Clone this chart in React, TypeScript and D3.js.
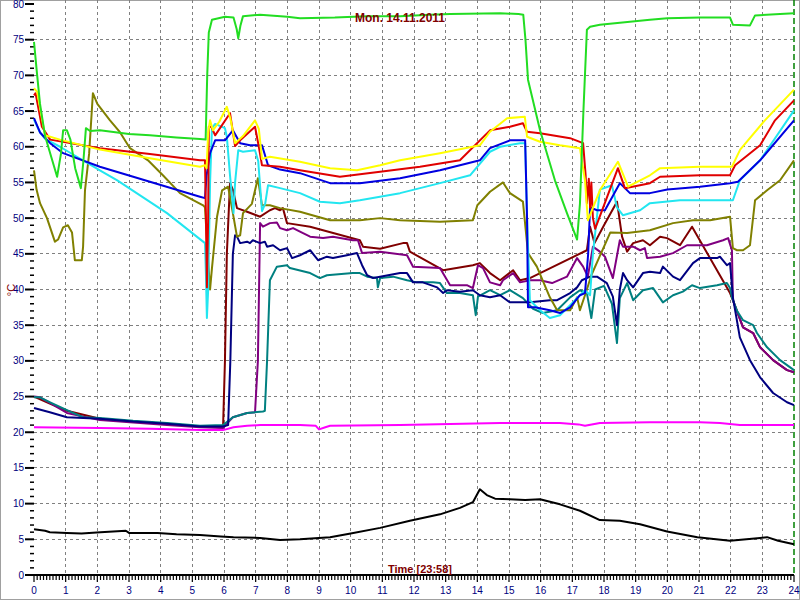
import React from 'react';
import * as d3 from 'd3';

type Pt = [number, number];

// hour of day, °C
const green: Pt[] = [[0,74.7],[0.1,70],[0.19,66],[0.35,61.5],[0.55,58.5],[0.73,55.8],[0.85,59],[0.92,62.3],[1.04,62.3],[1.15,61],[1.3,57],[1.48,54.2],[1.56,58],[1.64,62.6],[1.77,62.2],[2.08,62.3],[3,61.8],[3.66,61.6],[4.5,61.3],[5.24,61.1],[5.42,61],[5.47,70],[5.52,76],[5.62,77.8],[6.03,78.2],[6.3,78.1],[6.4,76.5],[6.45,75.2],[6.52,77],[6.6,78.3],[7.14,78.5],[8,78.2],[8.4,78.0],[9.5,78.1],[10.5,78.3],[11.56,78.3],[12.5,78.5],[13.14,78.6],[14.72,78.7],[15.3,78.6],[15.45,78.5],[15.52,75],[15.6,69.4],[15.98,62.3],[16.45,55.3],[16.83,50.7],[17.15,47],[17.24,52],[17.35,65],[17.46,76.4],[17.56,76.8],[17.87,77.1],[19.45,77.8],[20,78],[21.03,78.1],[21.98,78.1],[22.07,77.1],[22.61,77],[22.77,78.4],[23.56,78.6],[24,78.7]];
const yellow: Pt[] = [[0,68.2],[0.1,67.7],[0.25,64],[0.35,61.6],[0.82,61],[2.08,59.6],[3.66,58.4],[5.24,57.2],[5.4,57.4],[5.45,57],[5.5,62],[5.56,63.7],[5.65,62.3],[5.85,63.5],[6.09,65.6],[6.2,64],[6.35,60.5],[6.6,61.5],[6.98,63.7],[7.1,62.5],[7.2,58.3],[7.45,58.6],[8.4,57.9],[9.35,57.0],[10.2,56.7],[10.93,57.4],[11.56,58.1],[12.82,59.1],[14.08,60.2],[14.4,62.1],[14.94,64.0],[15.5,64.2],[15.57,61.4],[15.98,60.7],[16.61,60.2],[17.24,59.8],[17.4,55.3],[17.49,49.7],[17.87,53.9],[18.44,57.9],[18.76,54.4],[19.45,56],[19.77,57],[21.03,57.2],[22.04,57.2],[22.3,59.6],[23.08,63.7],[24,68]];
const red: Pt[] = [[0,67.2],[0.05,67.5],[0.25,62.8],[0.51,61],[2.08,59.8],[3.66,59.0],[5.24,58.1],[5.4,58.1],[5.43,50],[5.46,40.3],[5.5,50],[5.52,62.8],[5.6,62.8],[5.72,61.6],[6.19,64.7],[6.35,60.1],[6.51,60.9],[6.98,62.8],[7.1,60],[7.2,57.4],[7.77,57.2],[8.4,56.7],[9.66,55.8],[10.93,56.5],[12.19,57.2],[13.45,58.1],[14.4,62.3],[15.03,62.8],[15.44,63.3],[15.57,62.1],[15.98,61.9],[16.93,61.2],[17.34,60.5],[17.42,56],[17.46,52.1],[17.52,55.5],[17.56,51.5],[17.6,55],[17.65,50],[17.72,48.5],[18.44,57],[18.66,54.2],[19.45,54.9],[19.77,55.8],[21.03,56.0],[21.98,56.0],[22.14,57.4],[22.93,60.2],[23.4,63.7],[24,66.5]];
const blue: Pt[] = [[0,64],[0.19,62],[0.51,60.5],[0.92,59.1],[2.08,57.2],[3.66,55.1],[5.24,53.0],[5.4,52.8],[5.45,56],[5.56,59.1],[5.72,60.9],[6.03,60.9],[6.28,62.3],[6.51,60.5],[6.82,60.2],[7.2,60.2],[7.39,57.4],[7.77,56.8],[8.4,56.3],[9.35,54.9],[10.29,54.9],[11.56,55.6],[12.82,56.7],[14.08,58.1],[14.4,59.8],[15.03,60.9],[15.51,60.9],[15.57,50],[15.6,37.5],[15.82,37.5],[16.29,37.1],[16.61,36.7],[16.93,37.5],[17.24,39.2],[17.4,39.5],[17.5,45],[17.56,51.5],[17.78,51.1],[18.03,51.1],[18.5,54.9],[18.82,53.5],[19.45,53.5],[20.0,54],[21.03,54.4],[21.98,54.9],[22.23,55.1],[22.93,58.1],[24,63.7]];
const cyan: Pt[] = [[0,63.8],[0.19,62],[0.35,61.1],[0.82,60],[2.08,56.7],[2.63,55.3],[4.2,50.7],[5.4,46.5],[5.43,42],[5.46,36],[5.5,40],[5.56,55],[5.62,62.6],[5.72,63.2],[6.03,62.6],[6.09,61.4],[6.19,56],[6.3,50.7],[6.35,55],[6.45,59.5],[6.6,59.3],[6.98,59.5],[7.08,58],[7.2,51],[7.3,52],[7.39,54.6],[7.77,54.2],[8.4,53.5],[9.03,52.3],[9.66,52.1],[10.29,52.5],[11.56,53.5],[12.82,54.9],[13.77,56],[14.4,59.3],[14.72,60],[15.35,60.5],[15.51,60.5],[15.57,50],[15.66,38.5],[15.98,37.1],[16.29,36.0],[16.61,36.4],[16.93,37.8],[17.24,39.2],[17.4,39.9],[17.56,39.2],[17.65,45],[17.87,54],[18.25,54.6],[18.41,51.5],[18.6,50.4],[19.14,51.1],[19.45,52.1],[20.4,52.5],[22.07,52.5],[22.29,55.3],[22.93,58.1],[24,65.1]];
const olive: Pt[] = [[0,56.7],[0.08,54],[0.19,52.1],[0.41,50],[0.66,46.7],[0.76,47],[0.92,48.7],[1.07,49],[1.2,48],[1.29,44.1],[1.51,44.1],[1.55,46],[1.61,53.9],[1.74,59],[1.86,67.5],[2.0,66],[2.4,63.7],[2.72,62],[3.03,59.8],[3.6,58.1],[4.07,56],[4.61,53.5],[5.34,51.8],[5.4,51.5],[5.5,44],[5.56,40],[5.62,43],[5.78,50.2],[5.94,53.9],[6.13,54.4],[6.28,50.7],[6.41,47.4],[6.51,47.6],[6.6,50.7],[6.88,52],[7.07,55.6],[7.2,51.8],[7.45,51.8],[7.77,51.4],[8.4,50.9],[9.35,49.7],[10.29,49.7],[10.93,50.0],[11.56,49.7],[12.82,49.5],[13.86,49.7],[14.0,51.8],[14.4,53.7],[14.81,55],[15.03,53.5],[15.44,52.3],[15.6,45.1],[15.88,43.2],[16.29,38.9],[16.52,37.1],[16.93,37.1],[17.15,38.9],[17.24,37.1],[17.46,40],[17.6,42],[17.87,44.7],[18.2,48],[18.73,47.9],[19.45,48.3],[20.18,49.3],[20.81,49.7],[21.35,49.7],[21.98,50.2],[22.07,45.8],[22.2,45.5],[22.39,45.5],[22.61,46.2],[22.77,52.5],[23.15,53.9],[23.56,55.3],[24,58.1]];
const maroon: Pt[] = [[0,25],[0.5,24],[1.04,23],[2.08,21.9],[3.03,21.5],[4.2,21.2],[5.24,20.8],[5.97,20.7],[6.03,30],[6.09,45],[6.19,54.9],[6.28,54],[6.41,51.4],[6.73,50.9],[7.14,50.2],[7.45,51.1],[7.61,51.4],[7.77,51.1],[7.86,51.4],[7.99,49.3],[8.72,48.8],[10.29,46.9],[10.39,46],[10.93,45.7],[11.65,46.5],[11.78,46.5],[11.87,45.3],[12.92,42.7],[13.86,43.4],[14.08,43.7],[14.4,42.3],[14.72,41.3],[15.13,42.7],[15.35,41.3],[15.66,41.6],[17.46,45.5],[17.56,48.8],[17.7,46.5],[18.0,49],[18.41,52.3],[18.57,47.4],[18.73,45.3],[18.92,46.5],[19.23,46.9],[19.45,46.2],[19.77,47.4],[19.99,47.2],[20.4,46.2],[20.78,48.8],[21.98,39.5],[22.07,38.5],[22.39,34.7],[22.71,33.9],[22.93,31.9],[23.34,30.1],[23.78,28.7],[24,28.4]];
const purple: Pt[] = [[0,25],[0.19,24.9],[0.5,24.1],[1.04,22.7],[2.08,21.7],[3.03,21.4],[4.2,21.0],[5.24,20.7],[5.97,20.6],[6.13,21.4],[6.28,22.1],[6.73,22.7],[6.98,22.8],[7.07,30],[7.14,49.3],[7.23,48.8],[7.45,49.3],[7.67,49.4],[7.77,48.6],[7.99,48.3],[8.18,48.6],[8.4,48.1],[8.72,47.4],[9.13,47.2],[9.44,47.4],[10.07,46.9],[10.23,46.9],[10.36,45.1],[10.93,45.3],[11.78,44.8],[11.97,43.2],[12.82,43.0],[13.14,40.6],[13.67,40.6],[13.86,40.2],[14.02,43.4],[14.18,43.0],[14.4,41],[14.72,40.6],[14.81,41.3],[15.13,42.3],[15.35,41],[15.66,41.3],[15.98,41.3],[16.36,40.9],[16.83,41.8],[17.15,44.4],[17.34,43.2],[17.49,41.8],[17.65,46],[17.87,45.3],[18.03,44.6],[18.28,41.6],[18.5,46.9],[18.6,46],[18.92,46],[19.14,45.5],[19.29,45.8],[19.36,44.4],[19.77,44.6],[20.18,45.1],[20.62,46.2],[21.25,46.2],[21.76,46.9],[21.92,47.2],[22.04,45.5],[22.07,38.5],[22.39,34.7],[22.71,33.9],[22.93,31.9],[23.34,30.1],[23.78,28.7],[24,28.4]];
const teal: Pt[] = [[0,24.9],[0.19,24.9],[0.51,24.2],[1.04,23.1],[1.55,22.1],[2.08,22.0],[3.13,21.6],[4.2,21.3],[5.24,20.9],[5.97,21.0],[6.28,22.1],[6.73,22.7],[7.23,22.9],[7.29,23],[7.36,30],[7.45,41.3],[7.67,43.2],[7.99,43.4],[8.08,43.0],[8.72,42.3],[9.03,41.6],[9.25,42],[10.07,42.3],[10.29,42.3],[10.52,41.8],[10.83,41.6],[10.86,40.3],[10.93,41.6],[11.34,41.8],[11.78,41.3],[12.09,41],[12.6,41],[12.82,40.9],[13.04,39.5],[13.45,39.5],[13.86,39.2],[13.95,36.4],[14.02,39],[14.4,39.9],[14.72,39.2],[15.03,39.9],[15.44,38.8],[15.76,37.3],[16.07,36.7],[16.52,37.1],[16.93,38.9],[17.24,39.9],[17.46,39.5],[17.6,36],[17.72,40],[18.0,40.5],[18.25,38],[18.41,32.5],[18.5,38.8],[18.73,40.9],[18.92,38.5],[19.23,39.9],[19.55,40.2],[19.86,38.2],[20.18,39.2],[20.49,39.7],[20.78,40.6],[21.03,40.2],[21.57,40.6],[21.88,40.9],[21.98,40.2],[22.04,38.9],[22.2,37],[22.39,35.7],[22.71,35.0],[22.83,33.9],[23.15,31.9],[23.56,30.1],[24,28.7]];
const navy: Pt[] = [[0,23.4],[0.5,22.8],[1.04,22.1],[2.08,21.9],[3.13,21.5],[4.2,21.2],[5.24,20.8],[5.97,20.8],[6.13,21],[6.2,30],[6.28,45],[6.35,47.6],[6.41,47.4],[6.51,46.5],[6.73,46.7],[6.82,46.5],[6.91,46.9],[7.14,46.5],[7.29,46.7],[7.36,46],[7.55,46.2],[7.77,45.5],[7.99,45.8],[8.15,44.4],[8.4,44.8],[8.72,45.5],[8.97,44.1],[9.25,44.6],[9.44,44.4],[9.88,44.8],[10.2,45.1],[10.36,43.4],[10.52,42.0],[10.71,41.6],[10.93,41.8],[11.56,42.3],[11.78,42.3],[11.97,41],[12.28,41],[12.73,40.3],[12.92,39.5],[13.04,39.9],[13.45,39.7],[13.86,39.9],[14.08,39.2],[14.4,38.9],[14.72,39.2],[15.03,38.2],[15.66,38.2],[16.29,38.5],[16.52,38.5],[16.93,39.5],[17.15,40.3],[17.3,41.3],[17.56,41.8],[17.78,41.8],[18.09,40.9],[18.28,39],[18.41,35],[18.5,40],[18.6,42.3],[18.73,41.3],[18.92,40.3],[19.23,42.3],[19.45,42.5],[19.77,42.3],[19.86,43.2],[20.18,41.8],[20.4,41.3],[20.81,43.7],[21.03,44.4],[21.57,44.4],[21.66,44.6],[21.88,43.4],[21.98,43.7],[22.07,38.9],[22.29,33.3],[22.61,30.1],[22.93,27.7],[23.34,25.5],[23.78,24.2],[24,23.8]];
const magenta: Pt[] = [[0,20.7],[2.08,20.6],[3.66,20.5],[5.24,20.3],[5.97,20.3],[6.3,20.7],[6.73,20.9],[7.14,21.0],[8.4,21.0],[8.9,20.9],[9.0,20.4],[9.2,20.7],[9.35,20.9],[11.56,21.0],[14.72,21.3],[16.61,21.3],[17.2,21.1],[17.4,20.9],[17.87,21.3],[19.45,21.4],[21.03,21.4],[21.66,21.3],[22.29,21.0],[24,21.0]];
const outdoor: Pt[] = [[0,6.4],[0.35,6.2],[0.5,6.0],[1.04,5.9],[1.5,5.8],[2.1,6.0],[2.9,6.2],[3.0,5.9],[3.9,5.9],[4.5,5.7],[5.24,5.6],[5.9,5.4],[6.3,5.3],[7.14,5.2],[7.77,4.9],[8.4,5.0],[9.35,5.3],[10.0,5.8],[10.93,6.6],[11.87,7.6],[12.82,8.5],[13.45,9.4],[13.86,10.2],[14.08,12.0],[14.3,11.2],[14.56,10.7],[15.03,10.6],[15.51,10.5],[15.98,10.6],[16.61,9.9],[17.24,9.0],[17.87,7.7],[18.5,7.6],[19.14,7.1],[19.99,6.1],[20.95,5.3],[21.98,4.8],[22.93,5.2],[23.15,5.3],[23.5,4.8],[24,4.3]];

const series: { data: Pt[]; color: string }[] = [
  { data: outdoor, color: '#000000' },
  { data: magenta, color: '#ff00ff' },
  { data: maroon, color: '#800000' },
  { data: purple, color: '#800080' },
  { data: teal, color: '#008080' },
  { data: navy, color: '#000080' },
  { data: olive, color: '#808000' },
  { data: cyan, color: '#22e6f0' },
  { data: blue, color: '#0000e0' },
  { data: red, color: '#e00000' },
  { data: yellow, color: '#ffff00' },
  { data: green, color: '#22dd22' },
];

const hourTicks = d3.range(0, 25);
const valueTicks = d3.range(0, 81, 5);
const title = 'Mon. 14.11.2011';
const xTitle = 'Time [23:58]';
const yTitle = '°C';

const App = () => {
  const width = 800;
  const height = 600;
  const x = d3.scaleLinear().domain([0, 24]).range([34, 794]);
  const y = d3.scaleLinear().domain([0, 80]).range([575, 4]);
  const line = d3.line<Pt>().x((d) => x(d[0])).y((d) => y(d[1]));

  const minorX = d3.range(0, 240).map((i) => i / 10);
  const minorY = d3.range(0, 81).filter((v) => v % 5 !== 0);

  return (
    <svg width={width} height={height} style={{ position: 'absolute', left: 0, top: 0, background: '#fff' }}
      fontFamily="'Liberation Sans', Arial, sans-serif">
      <rect x={0.5} y={0.5} width={width - 1} height={height - 1} fill="#fff" stroke="#a0a0a0" />

      {/* grid */}
      {hourTicks.slice(1, 24).map((h) => (
        <line key={'gx' + h} x1={x(h)} x2={x(h)} y1={0} y2={575} stroke="#808080" strokeDasharray="3,3" shapeRendering="crispEdges" />
      ))}
      {valueTicks.slice(1, 16).map((v) => (
        <line key={'gy' + v} x1={34} x2={794} y1={y(v)} y2={y(v)} stroke="#808080" strokeDasharray="3,3" shapeRendering="crispEdges" />
      ))}

      {/* now marker */}
      <line x1={x(24)} x2={x(24)} y1={0} y2={575} stroke="#008000" strokeWidth={1.5} strokeDasharray="6,3" />

      {/* y axis ticks */}
      {valueTicks.map((v) => (
        <g key={'yt' + v}>
          <line x1={25} x2={34} y1={y(v)} y2={y(v)} stroke="#000" strokeWidth={2} />
          <text x={24} y={y(v)} dy="0.35em" textAnchor="end" fontSize={10} fill="#000080">{v}</text>
        </g>
      ))}
      {minorY.map((v) => (
        <line key={'ym' + v} x1={30} x2={34} y1={y(v)} y2={y(v)} stroke="#000" strokeWidth={1.5} />
      ))}

      {/* x axis */}
      <line x1={34} x2={794} y1={575} y2={575} stroke="#000" strokeWidth={2} />
      {minorX.map((h, i) => (
        <line key={'xm' + i} x1={x(h)} x2={x(h)} y1={575} y2={i % 10 === 0 ? 582 : 580} stroke="#000" strokeWidth={1.2} />
      ))}
      <line x1={x(24)} x2={x(24)} y1={575} y2={582} stroke="#000" strokeWidth={1.2} />
      {hourTicks.map((h) => (
        <text key={'xl' + h} x={x(h)} y={594} textAnchor="middle" fontSize={10} fill="#000080">{h}</text>
      ))}

      {/* series */}
      {series.map((s, i) => (
        <path key={i} d={line(s.data) || ''} fill="none" stroke={s.color} strokeWidth={2} strokeLinejoin="round" />
      ))}

      {/* titles */}
      <text x={400} y={22} textAnchor="middle" fontSize={12} fontWeight="bold" fill="#800000">{title}</text>
      <text x={420} y={573} textAnchor="middle" fontSize={11} fontWeight="bold" fill="#800000">{xTitle}</text>
      <text transform="translate(15,290) rotate(-90)" textAnchor="middle" fontSize={11} fill="#800000">{yTitle}</text>
    </svg>
  );
};

export default App;
